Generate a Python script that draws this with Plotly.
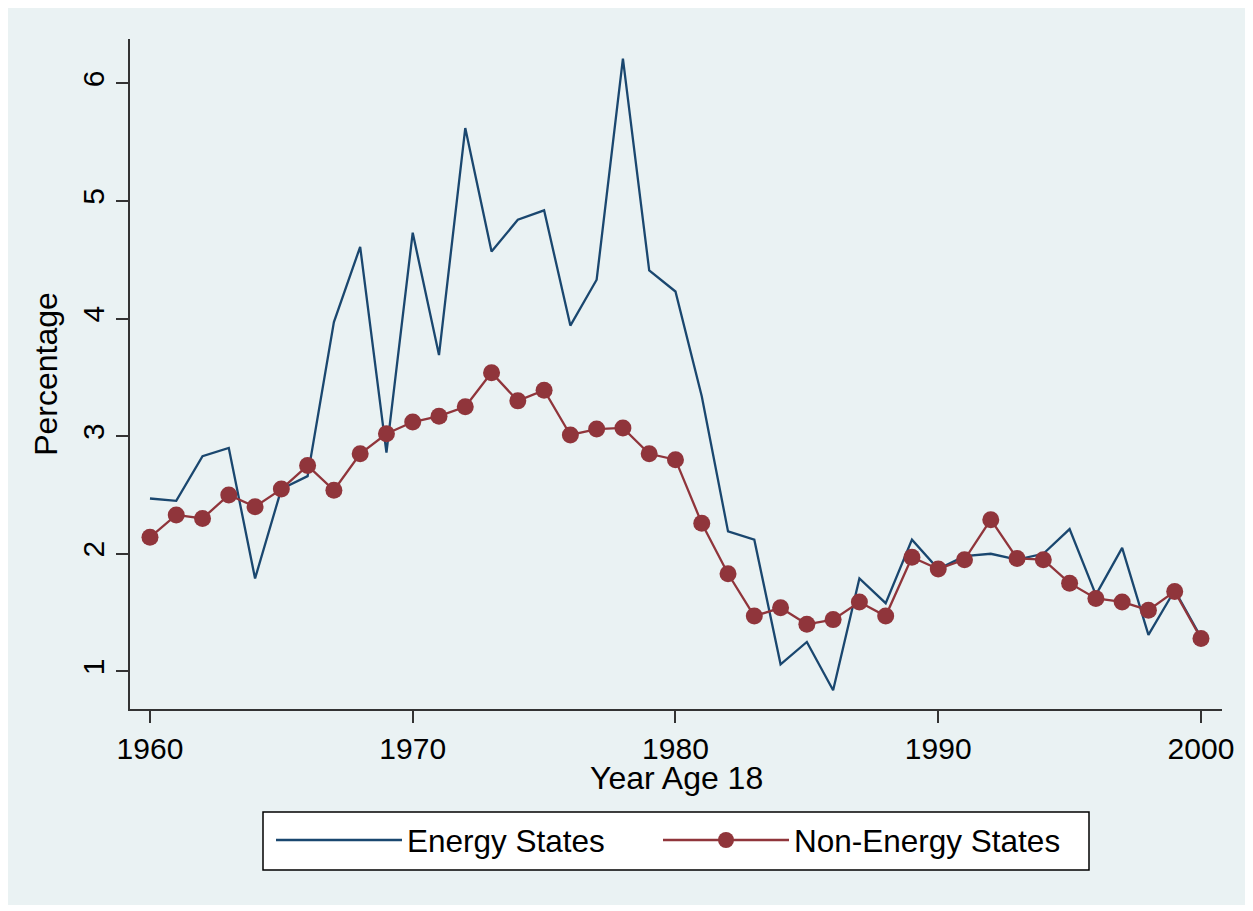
import plotly.graph_objects as go

years = list(range(1960, 2001))
energy_states = [2.47, 2.45, 2.83, 2.90, 1.79, 2.55, 2.66, 3.97, 4.61, 2.86,
                 4.73, 3.69, 5.62, 4.57, 4.84, 4.92, 3.94, 4.33, 6.21, 4.41,
                 4.23, 3.34, 2.19, 2.12, 1.06, 1.25, 0.84, 1.79, 1.58, 2.12,
                 1.87, 1.98, 2.00, 1.95, 2.00, 2.21, 1.65, 2.05, 1.31, 1.69,
                 1.29]
non_energy_states = [2.14, 2.33, 2.30, 2.50, 2.40, 2.55, 2.75, 2.54, 2.85, 3.02,
                     3.12, 3.17, 3.25, 3.54, 3.30, 3.39, 3.01, 3.06, 3.07, 2.85,
                     2.80, 2.26, 1.83, 1.47, 1.54, 1.40, 1.44, 1.59, 1.47, 1.97,
                     1.87, 1.95, 2.29, 1.96, 1.95, 1.75, 1.62, 1.59, 1.52, 1.68,
                     1.28]
x_ticks = [1960, 1970, 1980, 1990, 2000]
y_ticks = [1, 2, 3, 4, 5, 6]

BLUE = "#1a476f"
RED = "#90353b"
BG = "#eaf2f3"
FONT = "Liberation Sans, Arial, sans-serif"

fig = go.Figure()
fig.add_trace(go.Scatter(x=years, y=energy_states, mode="lines", name="Energy States",
                         line=dict(color=BLUE, width=2.3), legend="legend"))
fig.add_trace(go.Scatter(x=years, y=non_energy_states, mode="lines+markers",
                         name="Non-Energy States",
                         line=dict(color=RED, width=2.3),
                         marker=dict(color=RED, size=17), legend="legend2"))

# page body adds an 8px offset; work in page pixels minus 8
OFF = 8
W, H = 1253 - OFF, 911 - OFF
L, T = 130 - OFF, 39 - OFF
R = W - (1222 - OFF)
B = H - (709 - OFF)
pw, ph = W - L - R, H - T - B

def px_x(p):
    return (p - OFF - L) / pw

def px_y(p):
    return (H - B - (p - OFF)) / ph

# outer light background
fig.add_shape(type="rect", xref="paper", yref="paper",
              x0=px_x(7), x1=px_x(1246), y0=px_y(905), y1=px_y(7),
              fillcolor=BG, line=dict(width=0), layer="below")
# legend frame
fig.add_shape(type="rect", xref="paper", yref="paper",
              x0=px_x(263), x1=px_x(1089), y0=px_y(870), y1=px_y(812),
              fillcolor="white", line=dict(width=1.5, color="black"), layer="below")

fig.add_annotation(text="Year Age 18", xref="paper", yref="paper",
                   x=0.5, y=px_y(778), xanchor="center", yanchor="middle",
                   showarrow=False, font=dict(size=32, family=FONT, color="black"))

leg_common = dict(orientation="h", xanchor="left", yanchor="top", y=px_y(813),
                  bgcolor="rgba(0,0,0,0)", borderwidth=0,
                  font=dict(size=31.5, family=FONT, color="black"), itemwidth=126)

fig.update_layout(
    width=W, height=H,
    margin=dict(l=L, r=R, t=T, b=B),
    paper_bgcolor="white",
    plot_bgcolor="white",
    font=dict(family=FONT, color="black", size=31),
    showlegend=True,
    legend=dict(x=px_x(271), **leg_common),
    legend2=dict(x=px_x(658), **leg_common),
    xaxis=dict(range=[1959.24, 2000.8], tickvals=x_ticks, showgrid=False,
               zeroline=False, showline=True, linecolor="#333333", linewidth=2,
               ticks="outside", ticklen=12, tickwidth=2, tickcolor="#333333",
               tickfont=dict(size=30)),
    yaxis=dict(range=[0.68, 6.377], tickvals=y_ticks, showgrid=True, gridcolor=BG,
               gridwidth=2, zeroline=False, showline=True, linecolor="#333333", linewidth=2,
               ticks="outside", ticklen=12, tickwidth=2, tickcolor="#333333",
               tickangle=-90, tickfont=dict(size=30),
               title=dict(text="Percentage", font=dict(size=32), standoff=10)),
)

fig.write_html("out.html")
